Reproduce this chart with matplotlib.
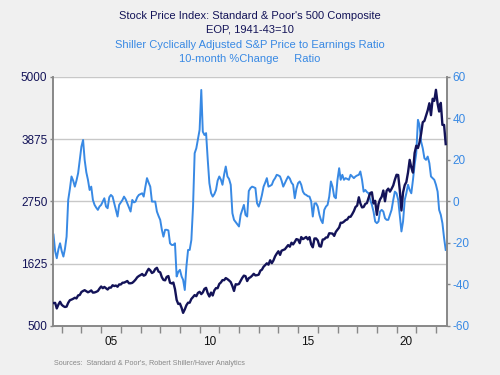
"""Recreate the Haver-style S&P 500 vs Shiller CAPE chart."""

import matplotlib
matplotlib.use("Agg")
import matplotlib.pyplot as plt
import matplotlib.dates as mdates
import pandas as pd

plt.rcParams["font.family"] = ["Liberation Sans", "DejaVu Sans"]

NAVY = "#131358"
LIGHT = "#3889e4"
BG = "#f0f0f0"

# S&P 500 month-end close, Jul 2002 - Jun 2022
sp500 = [
    912, 916, 815, 886, 936, 880,
    856, 841, 848, 917, 964, 975, 990, 1008, 996, 1051, 1058, 1112,
    1131, 1145, 1126, 1107, 1121, 1141, 1101, 1104, 1115, 1130, 1174, 1212,
    1181, 1204, 1181, 1157, 1192, 1191, 1234, 1220, 1229, 1207, 1249, 1248,
    1280, 1281, 1295, 1311, 1270, 1270, 1277, 1304, 1336, 1378, 1401, 1418,
    1438, 1407, 1421, 1482, 1531, 1503, 1455, 1474, 1527, 1549, 1481, 1468,
    1379, 1331, 1323, 1386, 1400, 1280, 1267, 1283, 1165, 969, 896, 903,
    826, 735, 798, 873, 919, 919, 987, 1021, 1057, 1036, 1096, 1115,
    1074, 1104, 1169, 1187, 1089, 1031, 1102, 1049, 1141, 1183, 1181, 1258,
    1286, 1327, 1326, 1364, 1345, 1321, 1292, 1219, 1131, 1253, 1247, 1258,
    1312, 1366, 1408, 1398, 1310, 1362, 1379, 1407, 1441, 1412, 1416, 1426,
    1498, 1515, 1569, 1598, 1631, 1606, 1686, 1633, 1682, 1757, 1806, 1848,
    1783, 1859, 1872, 1884, 1924, 1960, 1931, 2003, 1972, 2018, 2068, 2059,
    1995, 2105, 2068, 2086, 2107, 2063, 2104, 1972, 1920, 2079, 2080, 2044,
    1940, 1932, 2060, 2065, 2097, 2099, 2174, 2171, 2168, 2126, 2199, 2239,
    2279, 2364, 2363, 2384, 2412, 2423, 2470, 2472, 2519, 2575, 2648, 2674,
    2824, 2714, 2641, 2648, 2705, 2718, 2816, 2902, 2914, 2712, 2760, 2507,
    2704, 2784, 2834, 2946, 2752, 2942, 2980, 2926, 2977, 3038, 3141, 3231,
    3226, 2954, 2585, 2912, 3044, 3100, 3271, 3500, 3363, 3270, 3622, 3756,
    3714, 3811, 3973, 4181, 4204, 4298, 4395, 4523, 4308, 4605, 4567, 4766,
    4516, 4374, 4530, 4132, 4132, 3785,
]

# Shiller CAPE, 10-month % change, Jul 2002 - Jun 2022
cape_chg = [
    -16, -24, -27.4, -23, -20.2, -24,
    -26.6, -23, -17, 0.7, 6, 12, 10, 7.1, 10, 13.6, 20, 26.4,
    29.6, 20, 14, 10.4, 5.5, 7.1, 0.7, -1.7, -3, -4.1, -2.5, -1.7,
    0, 1.5, -2.5, -3.3, 2, 3.1, 2.3, -0.9, -4, -7.3, -1.7, -0.5,
    0.7, 2.3, 1, -0.9, -3, -4.9, 0.7, -0.5, -0.1, 2, 3.1, 3.5,
    3.9, 2.3, 7, 11.2, 9, 7.1, -0.1, -0.1, -0.1, -4.9, -7, -8.9,
    -13.7, -17, -13.7, -13.7, -14, -20.2, -21, -21, -20.2, -36.2, -34, -33,
    -36.2, -37.8, -42.7, -31.4, -23.4, -23.4, -18.6, -2.5, 23.2, 25.6, 30, 34.5,
    53.7, 33.6, 32, 32.9, 20, 8.8, 4, 2.3, 3.5, 5.5, 10, 12,
    10.4, 8, 13, 16.8, 12, 10.8, 8, -5.7, -8.9, -10, -11, -12.1,
    -6.5, -4.1, -1.7, -6.5, -7.3, 5, 6.4, 7.1, 6.8, 6.4, -0.9, -2.5,
    0, 3, 7.1, 9, 11.2, 7.1, 7.5, 8, 10, 11.2, 12.8, 12.5,
    12, 10, 7.1, 8.8, 10.5, 12, 11, 9, 8, 1.5, 6, 8.8,
    9.6, 8, 4.7, 3.5, 3.1, 2.5, 2.3, 0, -7.3, -1, -0.9, -2.5,
    -6.5, -9, -10.5, -4.1, -2.5, -1.7, 2.3, 9.6, 7.1, 2.3, 1.5, 10.4,
    16, 10.4, 12.8, 10.4, 11.2, 10.8, 10.4, 12.8, 12, 11.2, 12, 12.5,
    12.8, 14.4, 10.4, 4.7, 5.5, 4.5, 3.9, 0.7, -1.7, -5, -9.7, -10.5,
    -9.7, -4.9, -4.1, -4.9, -8.1, -8.9, -8.9, -6.5, -4.1, 0.7, 4.7, 3.9,
    0.7, -6.5, -14.5, -9.7, 0.7, 3.9, 8, 5.5, 3.9, 10.4, 17.6, 23.2,
    39.3, 36.9, 28.8, 25.6, 20.8, 20, 21.6, 18.4, 12, 11.2, 10.4, 8,
    4.7, -4.1, -6.5, -10.5, -17.7, -23.4,
]

left_ticks = [500, 1625, 2750, 3875, 5000]
right_ticks = [-60, -40, -20, 0, 20, 40, 60]
year_labels = ["05", "10", "15", "20"]
label_years = [2005, 2010, 2015, 2020]


def plot_chart(save_path: str = "out.png") -> None:
    """Draw the dual-axis chart and save it."""
    dates = pd.date_range("2002-07-31", periods=len(sp500), freq="ME")

    fig = plt.figure(figsize=(5, 3.75), dpi=100, facecolor=BG)
    ax = fig.add_axes([0.106, 0.131, 0.788, 0.664])
    ax2 = ax.twinx()

    ax2.plot(dates, cape_chg, color=LIGHT, linewidth=1.4, zorder=2)
    ax.plot(dates, sp500, color=NAVY, linewidth=1.7, zorder=3)
    ax.set_zorder(ax2.get_zorder() + 1)
    ax.patch.set_visible(False)
    ax2.patch.set_visible(True)
    ax2.patch.set_facecolor("white")

    ax.set_ylim(500, 5000)
    ax.set_yticks(left_ticks)
    ax.set_yticklabels([str(v) for v in left_ticks])
    ax2.set_ylim(-60, 60)
    ax2.set_yticks(right_ticks)
    ax2.set_yticklabels([str(v) for v in right_ticks])

    # gridlines from the left scale, drawn behind the lines
    for v in left_ticks:
        ax2.axhline(-60 + (v - 500) / 4500 * 120, color="#c8c8c8",
                    linewidth=1.0, zorder=1)

    ax.set_xlim(pd.Timestamp("2002-07-22"), pd.Timestamp("2022-07-24"))
    ax.xaxis.set_major_locator(mdates.YearLocator(1))
    ax.xaxis.set_major_formatter(plt.NullFormatter())
    ax.xaxis.set_minor_locator(
        plt.FixedLocator([mdates.date2num(pd.Timestamp(f"{y}-07-02")) for y in label_years]))
    ax.xaxis.set_minor_formatter(plt.FixedFormatter(year_labels))

    ax.tick_params(axis="x", which="major", length=5, width=1, color="#888888",
                   direction="out")
    ax.tick_params(axis="x", which="minor", length=0, pad=7, labelsize=8.5,
                   labelcolor="#111111")
    ax.tick_params(axis="y", length=2, width=1, color="#888888", labelsize=8.5,
                   labelcolor=NAVY, pad=2)
    ax2.tick_params(axis="y", length=2, width=1, color="#888888", labelsize=8.5,
                    labelcolor=LIGHT, pad=2)

    for a in (ax, ax2):
        a.spines["top"].set_visible(False)
        for side in ("left", "right", "bottom"):
            a.spines[side].set_color("#888888")
            a.spines[side].set_linewidth(1.2)

    fig.text(0.5, 0.957, "Stock Price Index: Standard & Poor's 500 Composite",
             ha="center", va="center", fontsize=8, color=NAVY)
    fig.text(0.5, 0.92, "EOP, 1941-43=10", ha="center", va="center",
             fontsize=8, color=NAVY)
    fig.text(0.5, 0.88, "Shiller Cyclically Adjusted S&P Price to Earnings Ratio",
             ha="center", va="center", fontsize=8, color=LIGHT)
    fig.text(0.5, 0.843, "10-month %Change     Ratio", ha="center", va="center",
             fontsize=8, color=LIGHT)
    fig.text(0.108, 0.03, "Sources:  Standard & Poor's, Robert Shiller/Haver Analytics",
             ha="left", va="center", fontsize=5.2, color="#888888")

    fig.savefig(save_path, dpi=100, facecolor=BG)


if __name__ == "__main__":
    plot_chart()
